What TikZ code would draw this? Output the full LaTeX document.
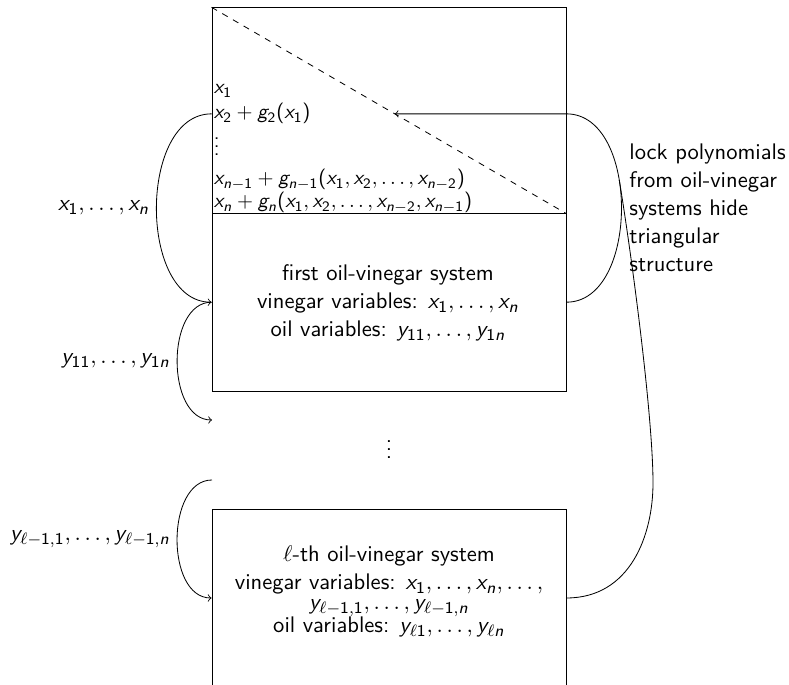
\documentclass[tikz,border=0pt]{standalone}
\renewcommand{\familydefault}{\sfdefault}
% sans-serif math: slanted sans letters, upright sans digits and delimiters
\DeclareSymbolFont{sfslanted}{OT1}{cmss}{m}{sl}
\SetSymbolFont{operators}{normal}{OT1}{cmss}{m}{n}
\DeclareMathSymbol{x}{\mathalpha}{sfslanted}{`x}
\DeclareMathSymbol{y}{\mathalpha}{sfslanted}{`y}
\DeclareMathSymbol{g}{\mathalpha}{sfslanted}{`g}
\DeclareMathSymbol{n}{\mathalpha}{sfslanted}{`n}
\def\pxu{0.4854pt}
\begin{document}
\begin{tikzpicture}[x=\pxu, y=-\pxu,
  every node/.style={font=\fontsize{10.95}{13.6}\selectfont},
  panel/.style={draw, minimum width=354*\pxu, inner sep=0pt},
  txt/.style={anchor=base west, inner sep=0pt, font=\fontsize{10}{12}\selectfont},
  line/.style={anchor=base, inner sep=0pt}]
\useasboundingbox (0,0) rectangle (789,685);

% panels
\node[panel, minimum height=205.5*\pxu] (tri) at (389,110.5) {};
\node[panel, minimum height=178*\pxu] (sys1) at (389,302.2) {};
\node[panel, minimum height=178*\pxu] (sysl) at (389,598) {};

% triangular part
\draw[dashed] (tri.north west) -- (tri.south east);
\node[txt] (t1) at (213.5,94) {$x_1$};
\node[txt] (t2) at (213.5,119) {$x_2+g_2(x_1)$};
\node[txt] (t3) at (213.5,156) {$\vdots$};
\node[txt] (t4) at (213.5,185) {$x_{n-1}+g_{n-1}(x_1,x_2,\dots,x_{n-2})$};
\node[txt] (t5) at (213.5,208) {$x_n+g_n(x_1,x_2,\dots,x_{n-2},x_{n-1})$};

% first oil-vinegar system
\node[line] (s1a) at (388,280.7) {first oil-vinegar system};
\node[line] (s1b) at (388,309) {vinegar variables: $x_1,\dots,x_n$};
\node[line] (s1c) at (388,337) {oil variables: $y_{11},\dots,y_{1n}$};

% l-th oil-vinegar system
\node[line] (sla) at (389,562) {$\ell$-th oil-vinegar system};
\node[line] (slb) at (389,590) {vinegar variables: $x_1,\dots,x_n,\dots,$};
\node[line] (slc) at (389,610) {$y_{\ell-1,1},\dots,y_{\ell-1,n}$};
\node[line] (sld) at (389,633) {oil variables: $y_{\ell1},\dots,y_{\ell n}$};

\node[anchor=base, inner sep=0pt] (gapdots) at (389,459) {$\vdots$};

\node[anchor=west, align=left, inner sep=0pt] (note) at (629,208)
  {lock polynomials\\from oil-vinegar\\systems hide\\triangular\\structure};

% connector end points
\coordinate (x2in) at (tri.west |- t2.west);
\coordinate (x2out) at (tri.east |- t2.west);
\coordinate (hit) at (intersection of tri.north west--tri.south east and x2in--x2out);
\coordinate (gapin) at (212,420);
\coordinate (gapout) at (212,480);
\coordinate (bend) at (653,483);

% left connectors
\draw[->] (x2in) to[out=180,in=180] node[left] {$x_1,\dots,x_n$} (sys1.west);
\draw[->] (sys1.west) to[out=180,in=180] node[left] {$y_{11},\dots,y_{1n}$} (gapin);
\draw[->] (gapout) to[out=180,in=180] node[left] {$y_{\ell-1,1},\dots,y_{\ell-1,n}$} (sysl.west);

% right connectors
\draw[->] (sys1.east) to[out=0,in=0] coordinate[pos=0.6] (merge) (x2out) -- (hit);
\draw (sysl.east) .. controls +(64,0) and +(0,52) .. (bend)
  .. controls +(0,-63) and +(14.5,89) .. (merge);
\end{tikzpicture}
\end{document}
